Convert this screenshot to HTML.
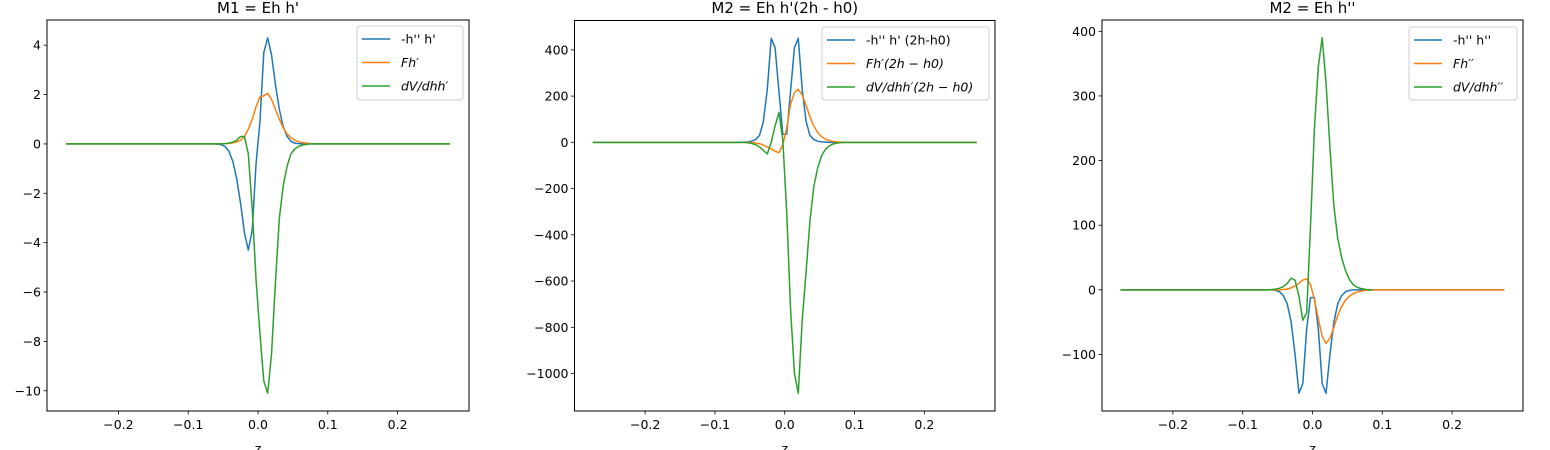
<!DOCTYPE html>
<html><head><meta charset="utf-8">
<style>
html,body{margin:0;padding:0;background:#fff;}
svg{display:block;font-family:"DejaVu Sans","Liberation Sans",sans-serif;}
</style></head>
<body>
<svg id="fig" width="1550" height="450" viewBox="0 0 1550 450" xmlns="http://www.w3.org/2000/svg"></svg>
<script>
// shared z grid
const zGrid = [-0.275,-0.0861,-0.0806,-0.075,-0.0694,-0.0639,-0.0583,-0.0528,-0.0472,-0.0417,-0.0361,-0.0306,-0.025,-0.0194,-0.0139,-0.0083,-0.0028,
  0.0028,0.0083,0.0139,0.0194,0.025,0.0306,0.0361,0.0417,0.0472,0.0528,0.0583,0.0639,0.0694,0.075,0.0806,0.0861,0.275];
const xTicks = [-0.2,-0.1,0,0.1,0.2];
const xTickLabels = ["\u22120.2","\u22120.1","0.0","0.1","0.2"];

// panel 1
const p1Blue = [0, 0,0,0,0,0,-0.01,-0.03,-0.1,-0.3,-0.7,-1.4,-2.4,-3.6,-4.3,-3.5,-0.8,
  0.9,3.7,4.3,3.6,2.4,1.4,0.7,0.3,0.1,0.03,0.01,0,0,0,0,0, 0];
const p1Orange = [0, 0,0,0,0,0,0,0,0.01,0.02,0.04,0.08,0.15,0.3,0.6,1.0,1.5,
  1.9,1.95,2.05,1.8,1.4,1.0,0.65,0.4,0.25,0.15,0.09,0.05,0.03,0.01,0,0, 0];
const p1Green = [0, 0,0,0,0,0,0,0,0.01,0.03,0.07,0.15,0.3,0.3,-0.4,-2.6,-5.5,
  -7.7,-9.6,-10.1,-8.5,-5.6,-3.0,-1.7,-0.9,-0.4,-0.2,-0.1,-0.05,-0.02,0,0,0, 0];
const p1YTicks = [-10,-8,-6,-4,-2,0,2,4];

// panel 2
const p2Blue = [0, 0,0,0,0,0,1,2,5,12,30,90,230,450,410,220,35,
  35,220,410,450,230,90,30,12,5,2,1,0,0,0,0,0, 0];
const p2Orange = [0, 0,0,0,0,0,0,0,-1,-3,-6,-12,-20,-28,-38,-45,-10,
  60,165,215,230,205,160,110,70,42,25,14,8,4,2,1,0, 0];
const p2Green = [0, 0,0,0,0,0,0,-2,-5,-10,-20,-35,-50,0,70,130,10,
  -300,-720,-1000,-1085,-770,-560,-340,-190,-110,-58,-30,-15,-7,-3,-1,0, 0];
const p2YTicks = [-1000,-800,-600,-400,-200,0,200,400];

// panel 3
const p3Blue = [0, 0,0,0,0,0,0,-1,-3,-9,-22,-50,-100,-160,-145,-60,-12,
  -12,-60,-145,-160,-100,-50,-22,-9,-3,-1,0,0,0,0,0,0, 0];
const p3Orange = [0, 0,0,0,0,0,0,0,0,0.5,1,3,6,10,15,17,8,
  -15,-45,-72,-83,-75,-58,-40,-26,-16,-10,-6,-3.5,-2,-1,-0.5,0, 0];
const p3Green = [0, 0,0,0,0,0,0.5,1,2.5,5,10,18,15,-10,-47,-35,
  100,250,345,390,320,220,130,80,50,30,16,8,4,2,1,0, 0];
const p3YTicks = [-100,0,100,200,300,400];

const colors = ["#1f77b4","#ff7f0e","#2ca02c"];
const NS = "http://www.w3.org/2000/svg";
const svg = document.getElementById("fig");
function mk(tag, attrs, parent){
  const e = document.createElementNS(NS, tag);
  for (const k in attrs) e.setAttribute(k, attrs[k]);
  (parent||svg).appendChild(e);
  return e;
}
function fmt(v){ return (v<0?"\u2212":"")+Math.abs(v); }

const panels = [
  {id:"m1", title:"M1 = Eh h'", L:47, R:469, T:20, B:411, ymin:-10.82, ymax:5.02, yt:p1YTicks,
   series:[p1Blue,p1Orange,p1Green], names:["-h'' h'","Fh\u2032","dV/dhh\u2032"], italic:[false,true,true],
   leg:{x:357,y:26,w:106,h:74}},
  {id:"m2a", title:"M2 = Eh h'(2h - h0)", L:574.5, R:995, T:20.5, B:411, ymin:-1162, ymax:527, yt:p2YTicks,
   series:[p2Blue,p2Orange,p2Green], names:["-h'' h' (2h-h0)","Fh\u2032(2h \u2212 h0)","dV/dhh\u2032(2h \u2212 h0)"], italic:[false,true,true],
   leg:{x:822,y:27,w:167,h:73}},
  {id:"m2b", title:"M2 = Eh h''", L:1102, R:1523, T:20, B:411, ymin:-187.5, ymax:417.5, yt:p3YTicks,
   series:[p3Blue,p3Orange,p3Green], names:["-h'' h''","Fh\u2032\u2032","dV/dhh\u2032\u2032"], italic:[false,true,true],
   leg:{x:1409,y:27,w:108,h:73}}
];

panels.forEach((p, pi) => {
  const g = mk("g", {});
  
  
  const cx = (p.L+p.R)/2;
  const xs = v => cx + v*698;
  const ys = v => p.B - (v - p.ymin)/(p.ymax - p.ymin)*(p.B - p.T);

  // series
  p.series.forEach((arr, si) => {
    const d = arr.map((v,i)=> (i?"L":"M") + xs(zGrid[i]).toFixed(2) + " " + ys(v).toFixed(2)).join(" ");
    const path = mk("path", {d:d, fill:"none", stroke:colors[si], "stroke-width":1.5, "stroke-linejoin":"round"}, g);
    
    
  });

  // frame
  const fr = mk("rect", {x:p.L, y:p.T, width:p.R-p.L, height:p.B-p.T, fill:"none", stroke:"#000", "stroke-width":1}, g);
  
  

  // x ticks
  xTicks.forEach((t, i) => {
    const x = xs(t);
    const tk = mk("line", {x1:x, x2:x, y1:p.B, y2:p.B+3.5, stroke:"#000", "stroke-width":0.8}, g);
    
    
    const tl = mk("text", {x:x, y:p.B+18, "font-size":12.5, "text-anchor":"middle", fill:"#000"}, g);
    tl.textContent = xTickLabels[i];
    
    
  });
  // y ticks
  p.yt.forEach(t => {
    const y = ys(t);
    const tk = mk("line", {x1:p.L-3.5, x2:p.L, y1:y, y2:y, stroke:"#000", "stroke-width":0.8}, g);
    
    
    const tl = mk("text", {x:p.L-6, y:y+4.5, "font-size":12.5, "text-anchor":"end", fill:"#000"}, g);
    tl.textContent = fmt(t);
    
    
  });
  // title
  const ti = mk("text", {x:cx, y:13, "font-size":15, "text-anchor":"middle", fill:"#000"}, g);
  ti.textContent = p.title;
  
  
  // x label
  const xl = mk("text", {x:cx, y:453, "font-size":12.5, "text-anchor":"middle", fill:"#000"}, g);
  xl.textContent = "z";
  
  

  // legend
  const lg = mk("g", {}, g);
  
  
  mk("rect", {x:p.leg.x, y:p.leg.y, width:p.leg.w, height:p.leg.h, rx:3, fill:"#fff", "fill-opacity":0.8, stroke:"#ccc", "stroke-width":1}, lg);
  p.names.forEach((n, si) => {
    const y = p.leg.y + 13 + si*23.5;
    const ln = mk("line", {x1:p.leg.x+5, x2:p.leg.x+33, y1:y, y2:y, stroke:colors[si], "stroke-width":1.5}, lg);
    
    
    const tx = mk("text", {x:p.leg.x+44, y:y+4.5, "font-size":12.5, fill:"#000"}, lg);
    if (p.italic[si]) tx.setAttribute("font-style","italic");
    tx.textContent = n;
    
    
  });
});
</script>
</body></html>
